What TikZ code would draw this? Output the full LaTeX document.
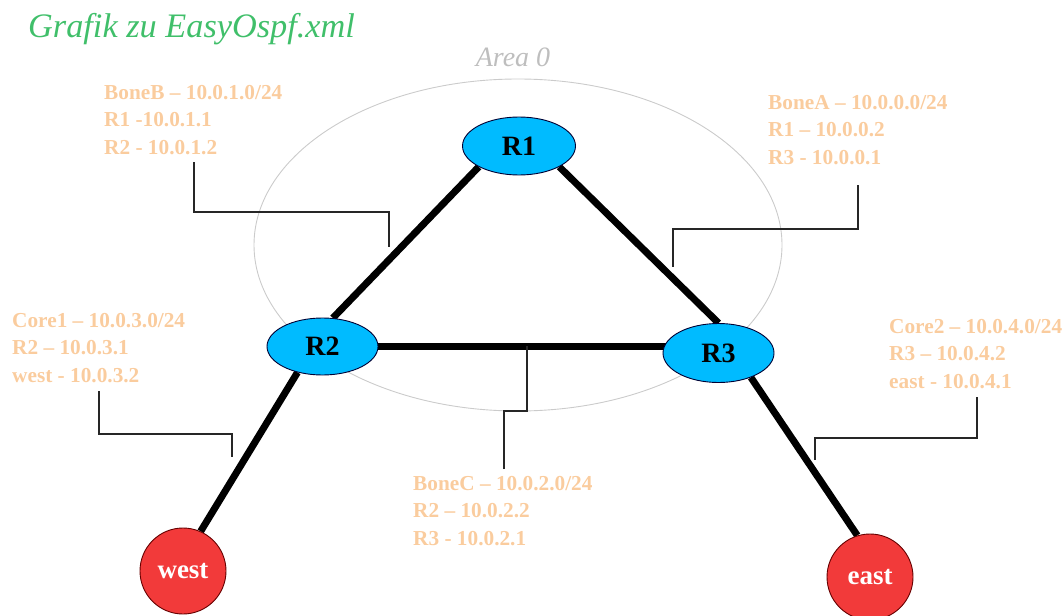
\documentclass[tikz,border=0pt]{standalone}
\usepackage{fontspec}
\setmainfont{Liberation Serif}
\usetikzlibrary{shapes.geometric,backgrounds}

\definecolor{titlegreen}{RGB}{64,191,106}
\definecolor{netlabel}{RGB}{250,204,158}
\definecolor{routerblue}{RGB}{0,187,255}
\definecolor{hostred}{RGB}{242,58,58}
\definecolor{areagray}{RGB}{190,190,190}

\tikzset{
  router/.style={ellipse, draw=black!80!blue, line width=0.9pt, fill=routerblue,
    inner sep=0pt, font=\fontsize{28}{30}\selectfont\bfseries},
  host/.style={circle, draw=black!60!red, line width=0.9pt, fill=hostred,
    inner sep=0pt, minimum size=86pt, text=white, font=\fontsize{27}{30}\selectfont\bfseries},
  link/.style={line width=7pt},
  callout/.style={line width=1.2pt, black!85},
  netinfo/.style={anchor=north west, inner sep=0pt, align=left, text=netlabel,
    font=\fontsize{21.3}{27.5}\selectfont\bfseries},
}

\begin{document}
\begin{tikzpicture}[x=1pt,y=-1pt]
\useasboundingbox (0,0) rectangle (1064,615);

% title and area caption
\node[anchor=base west, inner sep=0pt, text=titlegreen,
  font=\fontsize{34.3}{36}\selectfont\itshape] (title) at (28,38) {Grafik zu EasyOspf.xml};
\node[anchor=base, inner sep=0pt, text=areagray,
  font=\fontsize{28}{30}\selectfont\itshape] (areacap) at (513,67) {Area 0};

% routers and hosts
\node[router, minimum width=113pt, minimum height=58pt] (R1) at (519,146) {R1};
\node[router, minimum width=111pt, minimum height=57pt] (R2) at (322.5,346.5) {R2};
\node[router, minimum width=111pt, minimum height=59pt] (R3) at (718.5,353) {R3};
\node[host] (west) at (183,571) {west};
\node[host] (east) at (870,577) {east};

% area boundary and links, behind the nodes
\begin{pgfonlayer}{background}
  \node[ellipse, draw=areagray!80, line width=0.9pt, minimum width=528pt,
    minimum height=332pt, inner sep=0pt] (area0) at (518,245) {};
  \draw[link] (R1.south west) -- (R2.70);
  \draw[link] (R1.south east) -- (R3.north);
  \draw[link] (R2.center) -- (R2.center -| R3.center);
  \draw[link] (R2.226) -- (west.66);
  \draw[link] (R3.323) -- (east.107);
\end{pgfonlayer}

% network labels
\node[netinfo] (boneB) at (104,85) {BoneB – 10.0.1.0/24\\R1 -10.0.1.1\\R2 - 10.0.1.2};
\node[netinfo] (boneA) at (768,95) {BoneA – 10.0.0.0/24\\R1 – 10.0.0.2\\R3 - 10.0.0.1};
\node[netinfo] (core1) at (12,313) {Core1 – 10.0.3.0/24\\R2 – 10.0.3.1\\west - 10.0.3.2};
\node[netinfo] (boneC) at (413,476) {BoneC – 10.0.2.0/24\\R2 – 10.0.2.2\\R3 - 10.0.2.1};
\node[netinfo] (core2) at (889,319) {Core2 – 10.0.4.0/24\\R3 – 10.0.4.2\\east - 10.0.4.1};

% callout leaders from labels to links
\coordinate (bB1) at (194,162); \coordinate (bB2) at (389,247);
\coordinate (bA1) at (858,185); \coordinate (bA2) at (673,267);
\coordinate (c11) at (99,391);  \coordinate (c12) at (232,457);
\coordinate (bC1) at (504,469); \coordinate (bC2) at (527,346);
\coordinate (c21) at (977,397); \coordinate (c22) at (815,460);
\draw[callout] (bB1) -- (194,212) -| (bB2);
\draw[callout] (bA1) -- (858,229) -| (bA2);
\draw[callout] (c11) -- (99,434) -| (c12);
\draw[callout] (bC1) -- (504,411) -| (bC2);
\draw[callout] (c21) -- (977,438) -| (c22);
\end{tikzpicture}
\end{document}
